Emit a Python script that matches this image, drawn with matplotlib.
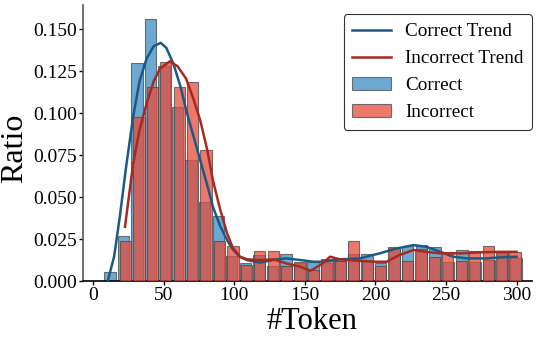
import numpy as np
import matplotlib
matplotlib.use("Agg")
import matplotlib.pyplot as plt

# histogram bins: first bin centre and bin spacing (in #Token), heights are ratios
correct_start, correct_step = 12.0, 9.59
correct_ratio = [0.0054, 0.0268, 0.130, 0.156, 0.128, 0.104, 0.072, 0.047, 0.0387, 0.015,
                 0.0105, 0.0155, 0.009, 0.016, 0.011, 0.0115, 0.011, 0.012, 0.016, 0.016,
                 0.0107, 0.0197, 0.021, 0.0214, 0.0204, 0.0113, 0.0184, 0.0113, 0.0125, 0.0167,
                 0.014]

incorrect_start, incorrect_step = 23.1, 9.51
incorrect_ratio = [0.0238, 0.098, 0.1157, 0.1305, 0.1157, 0.1187, 0.0784, 0.0238, 0.0208, 0.0095,
                   0.0178, 0.0178, 0.009, 0.0115, 0.0065, 0.013, 0.012, 0.0238, 0.012, 0.009,
                   0.0204, 0.012, 0.019, 0.0145, 0.0175, 0.012, 0.0179, 0.0208, 0.0175, 0.0175]

# trend curves
correct_trend_x = [10.5, 15, 19, 23.5, 28.5, 33, 38, 43, 48, 52, 57, 62, 66, 71, 76, 81, 85, 90,
                   95, 99, 104, 109, 118, 130, 137, 147, 156, 161, 168, 175, 189, 203, 215, 227,
                   236, 246, 255, 265, 279, 288, 300]
correct_trend_y = [0.0, 0.0145, 0.038, 0.068, 0.098, 0.119, 0.1325, 0.140, 0.142, 0.139, 0.1295,
                   0.116, 0.102, 0.087, 0.072, 0.057, 0.0442, 0.033, 0.0244, 0.019, 0.0145,
                   0.0125, 0.011, 0.0129, 0.0135, 0.0125, 0.0115, 0.0115, 0.012, 0.0129, 0.0135,
                   0.0165, 0.0194, 0.0214, 0.0204, 0.0174, 0.0145, 0.0135, 0.0135, 0.0141, 0.0145]

incorrect_trend_x = [22.7, 28.5, 33, 38, 43, 47.5, 54.5, 60, 66, 71, 76, 81, 85, 90, 95, 99, 104,
                     109, 118, 128, 137, 147, 154, 161, 168, 175, 189, 201, 208, 217, 227, 236,
                     246, 260, 274, 288, 300]
incorrect_trend_y = [0.0323, 0.070, 0.090, 0.1058, 0.119, 0.1266, 0.131, 0.128, 0.1206, 0.109,
                     0.0958, 0.078, 0.060, 0.043, 0.0284, 0.020, 0.0145, 0.013, 0.0125, 0.0129,
                     0.0105, 0.0085, 0.0061, 0.0095, 0.0145, 0.0129, 0.012, 0.0115, 0.0115,
                     0.0155, 0.0185, 0.0174, 0.0165, 0.0165, 0.0171, 0.0174, 0.0174]

plt.rcParams['font.family'] = ['Liberation Serif', 'DejaVu Serif']

fig = plt.figure(figsize=(5.48, 3.39), dpi=100)
ax = fig.add_axes([0.1515, 0.171, 0.8195, 0.814])

shrink = 0.84
cx = correct_start + correct_step * np.arange(len(correct_ratio))
ix = incorrect_start + incorrect_step * np.arange(len(incorrect_ratio))

ax.bar(cx, correct_ratio, width=correct_step * shrink, color='#3b8bc2', alpha=0.75,
       edgecolor='#4a4a4a', linewidth=0.8, label='Correct', zorder=2)
ax.bar(ix, incorrect_ratio, width=incorrect_step * shrink, color='#e74c3c', alpha=0.75,
       edgecolor='#4a4a4a', linewidth=0.8, label='Incorrect', zorder=3)

ax.plot(correct_trend_x, correct_trend_y, color='#1b5a82', lw=1.8, label='Correct Trend', zorder=4)
ax.plot(incorrect_trend_x, incorrect_trend_y, color='#a52a22', lw=1.8, label='Incorrect Trend', zorder=4)

ax.set_xlim(-7, 311)
ax.set_ylim(0, 0.1645)
ax.set_xticks([0, 50, 100, 150, 200, 250, 300])
ax.set_yticks(np.arange(0, 0.151, 0.025))
ax.set_yticklabels(["%.3f" % v for v in np.arange(0, 0.151, 0.025)])
ax.tick_params(labelsize=14, length=3, width=1, pad=1.5)

ax.spines['top'].set_visible(False)
ax.spines['right'].set_visible(False)
ax.spines['left'].set_color('#555555')
ax.spines['left'].set_linewidth(1.2)
ax.spines['bottom'].set_linewidth(1.2)

ax.set_xlabel("#Token", fontsize=22)
ax.set_ylabel("Ratio", fontsize=23)
ax.xaxis.set_label_coords(0.51, -0.095, transform=ax.transAxes)
ax.yaxis.set_label_coords(-0.12, 0.48, transform=ax.transAxes)

h, l = ax.get_legend_handles_labels()
order = [l.index(n) for n in ['Correct Trend', 'Incorrect Trend', 'Correct', 'Incorrect']]
leg = ax.legend([h[i] for i in order], [l[i] for i in order], loc='upper right',
                fontsize=13.8, frameon=True, fancybox=True, edgecolor='black',
                borderaxespad=0, bbox_to_anchor=(1.0, 0.967), labelspacing=0.5,
                handletextpad=0.75, borderpad=0.45)
leg.get_frame().set_linewidth(0.8)

fig.savefig("out.png", dpi=100)
